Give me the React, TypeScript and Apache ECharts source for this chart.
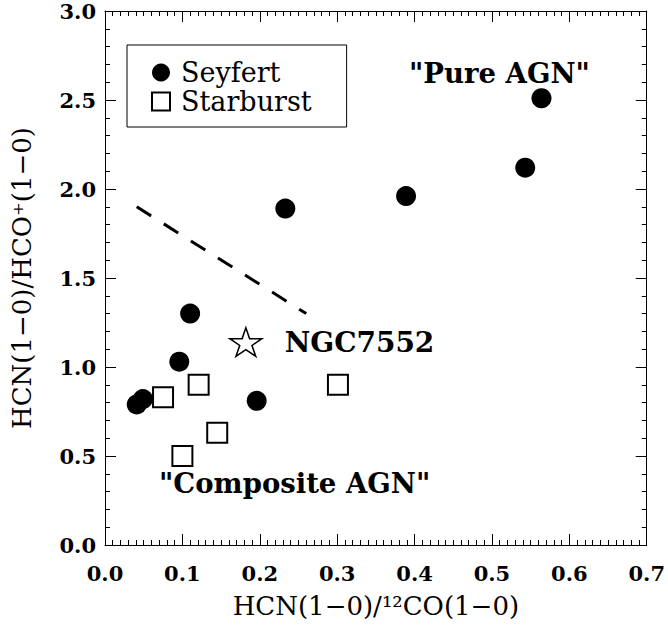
import React, { useEffect, useRef } from "react";
import * as echarts from "echarts";

const seyfertX = [0.041, 0.049, 0.096, 0.110, 0.196, 0.233, 0.389, 0.543, 0.564];
const seyfertY = [0.79, 0.82, 1.03, 1.30, 0.81, 1.89, 1.96, 2.12, 2.51];
const starburstX = [0.075, 0.121, 0.145, 0.100, 0.301];
const starburstY = [0.83, 0.90, 0.63, 0.50, 0.90];
const ngcX = [0.182];
const ngcY = [1.14];
const dividerX = [0.041, 0.260];
const dividerY = [1.90, 1.30];
const xTicks = [0.0, 0.1, 0.2, 0.3, 0.4, 0.5, 0.6, 0.7];
const yTicks = [0.0, 0.5, 1.0, 1.5, 2.0, 2.5, 3.0];

const SERIF = "'DejaVu Serif', serif";
const STAR = "path://M50 0 L61.2 34.5 L97.6 34.5 L68.2 55.9 L79.4 90.5 L50 69.1 L20.6 90.5 L31.8 55.9 L2.4 34.5 L38.8 34.5 Z";

const zip = (xs: number[], ys: number[]) => xs.map((x, i) => [x, ys[i]]);

export default function App() {
  const ref = useRef<HTMLDivElement>(null);
  useEffect(() => {
    if (!ref.current) return;
    const chart = echarts.init(ref.current, null, { renderer: "svg" });
    const tickCommon = {
      axisLine: { show: true, onZero: false, lineStyle: { color: "#000", width: 1 } },
      axisTick: { show: true, inside: true, length: 11, lineStyle: { color: "#000", width: 1 } },
      splitLine: { show: false },
    };
    const xBase = {
      type: "value",
      min: xTicks[0],
      max: xTicks[xTicks.length - 1],
      interval: 0.1,
      ...tickCommon,
      minorTick: { show: true, splitNumber: 10, length: 5, lineStyle: { color: "#000", width: 1 } },
    };
    const yBase = {
      type: "value",
      min: yTicks[0],
      max: yTicks[yTicks.length - 1],
      interval: 0.5,
      ...tickCommon,
      minorTick: { show: true, splitNumber: 5, length: 5, lineStyle: { color: "#000", width: 1 } },
    };
    chart.setOption({
      animation: false,
      backgroundColor: "#fff",
      grid: { left: 105, right: 21, top: 11, bottom: 82, containLabel: false },
      xAxis: [
        {
          ...xBase,
          position: "bottom",
          name: "HCN(1\u22120)/\u00b9\u00b2CO(1\u22120)",
          nameLocation: "middle",
          nameGap: 48,
          nameTextStyle: { fontFamily: SERIF, fontSize: 26, color: "#000" },
          axisLabel: {
            show: true,
            margin: 18,
            formatter: (v: number) => v.toFixed(1),
            fontFamily: SERIF,
            fontWeight: "bold",
            fontSize: 21,
            color: "#000",
          },
        },
        { ...xBase, position: "top", axisLabel: { show: false } },
      ],
      yAxis: [
        {
          ...yBase,
          position: "left",
          name: "HCN(1\u22120)/HCO\u207a(1\u22120)",
          nameLocation: "middle",
          nameGap: 70,
          nameTextStyle: { fontFamily: SERIF, fontSize: 26, color: "#000" },
          axisLabel: {
            show: true,
            margin: 9,
            formatter: (v: number) => v.toFixed(1),
            fontFamily: SERIF,
            fontWeight: "bold",
            fontSize: 21,
            color: "#000",
          },
        },
        { ...yBase, position: "right", axisLabel: { show: false } },
      ],
      legend: {
        orient: "vertical",
        left: 127,
        top: 45,
        borderColor: "#000",
        borderWidth: 1,
        borderRadius: 0,
        padding: [13, 35, 11, 24],
        itemGap: 0,
        itemWidth: 18,
        itemHeight: 18,
        textStyle: { fontFamily: SERIF, fontSize: 27, color: "#000", lineHeight: 29, padding: [0, 0, 0, 6] },
        data: [
          { name: "Seyfert", icon: "circle" },
          { name: "Starburst", icon: "rect" },
        ],
      },
      graphic: [
        {
          type: "text",
          x: 409,
          y: 73,
          style: { text: '"Pure AGN"', font: `bold 27.5px ${SERIF}`, fill: "#000", verticalAlign: "middle", align: "left" },
        },
        {
          type: "text",
          x: 159,
          y: 483,
          style: { text: '"Composite AGN"', font: `bold 27.5px ${SERIF}`, fill: "#000", verticalAlign: "middle", align: "left" },
        },
      ],
      series: [
        {
          name: "divider",
          type: "line",
          data: zip(dividerX, dividerY),
          showSymbol: false,
          symbol: "none",
          lineStyle: { color: "#000", width: 3, type: [17, 15] },
          silent: true,
          z: 1,
        },
        {
          name: "Seyfert",
          type: "scatter",
          data: zip(seyfertX, seyfertY),
          symbol: "circle",
          symbolSize: 20,
          itemStyle: { color: "#000", opacity: 1 },
          z: 3,
        },
        {
          name: "Starburst",
          type: "scatter",
          data: zip(starburstX, starburstY),
          symbol: "rect",
          symbolSize: 20,
          itemStyle: { color: "#fff", borderColor: "#000", borderWidth: 2, opacity: 1 },
          z: 3,
        },
        {
          name: "NGC7552",
          type: "scatter",
          data: zip(ngcX, ngcY),
          symbol: STAR,
          symbolKeepAspect: true,
          symbolSize: [32, 30],
          itemStyle: { color: "#fff", borderColor: "#000", borderWidth: 1.5, opacity: 1 },
          label: {
            show: true,
            position: "right",
            distance: 22,
            formatter: "NGC7552",
            fontFamily: SERIF,
            fontWeight: "bold",
            fontSize: 28,
            color: "#000",
          },
          z: 3,
        },
      ],
    });
    return () => chart.dispose();
  }, []);
  return <div ref={ref} style={{ position: "fixed", left: 0, top: 0, width: 668, height: 627 }} />;
}
